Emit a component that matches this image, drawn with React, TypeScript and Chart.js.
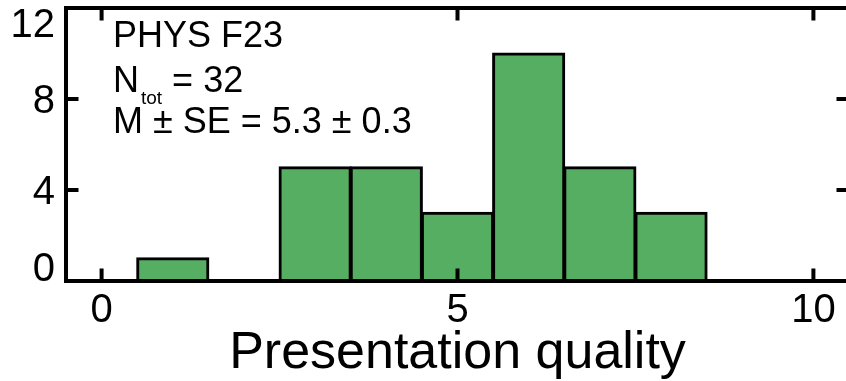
import React, { useEffect, useRef } from "react";
import { Chart, registerables } from "chart.js";

Chart.register(...registerables);

// ---- data ----
const binCenters = [0, 1, 2, 3, 4, 5, 6, 7, 8, 9, 10];
const counts = [0, 1, 0, 5, 5, 3, 10, 5, 3, 0, 0];
const xTicks = [0, 5, 10];
const yTicks = [0, 4, 8, 12];
const xTitle = "Presentation quality";
const groupLabel = "PHYS F23";
const nTotal = 32;
const meanText = "M \u00b1 SE = 5.3 \u00b1 0.3";

const FONT = '"Liberation Sans", Arial, Helvetica, sans-serif';

const axesPlugin = {
  id: "frameAxes",
  afterDatasetsDraw(chart: any) {
    const { ctx, chartArea: a, scales } = chart;
    const xs = scales.x;
    const ys = scales.y;
    ctx.save();
    ctx.strokeStyle = "#000";
    ctx.lineWidth = 4;
    ctx.lineJoin = "miter";
    ctx.lineCap = "butt";
    ctx.strokeRect(a.left, a.top, a.right - a.left, a.bottom - a.top);

    const tl = 12.5;
    ctx.beginPath();
    for (const v of xTicks) {
      const px = xs.getPixelForValue(v);
      ctx.moveTo(px, a.bottom);
      ctx.lineTo(px, a.bottom - tl);
      ctx.moveTo(px, a.top);
      ctx.lineTo(px, a.top + tl);
    }
    for (const v of yTicks) {
      const py = ys.getPixelForValue(v);
      ctx.moveTo(a.left, py);
      ctx.lineTo(a.left + tl, py);
      ctx.moveTo(a.right, py);
      ctx.lineTo(a.right - tl, py);
    }
    ctx.stroke();

    ctx.fillStyle = "#000";
    const tickSize = 40;
    const cap = tickSize * 0.716;
    ctx.font = `${tickSize}px ${FONT}`;
    ctx.textBaseline = "alphabetic";
    ctx.textAlign = "center";
    for (const v of xTicks) {
      ctx.fillText(String(v), xs.getPixelForValue(v), a.bottom + 41);
    }
    ctx.textAlign = "right";
    for (const v of yTicks) {
      let c = ys.getPixelForValue(v);
      c = Math.min(Math.max(c, a.top + cap / 2), a.bottom - cap / 2);
      ctx.fillText(String(v), a.left - 11, c + cap / 2);
    }

    // axis title
    ctx.font = `52px ${FONT}`;
    ctx.textAlign = "center";
    ctx.fillText(xTitle, (a.left + a.right) / 2, a.bottom + 87);

    // annotation
    const tx = a.left + 47;
    ctx.textAlign = "left";
    ctx.font = `36px ${FONT}`;
    ctx.fillText(groupLabel, tx, a.top + 39);
    const b2 = a.top + 84;
    ctx.fillText("N", tx, b2);
    let cx = tx + ctx.measureText("N").width + 2;
    ctx.font = `19px ${FONT}`;
    ctx.fillText("tot", cx, b2 + 12);
    cx += ctx.measureText("tot").width;
    ctx.font = `36px ${FONT}`;
    ctx.fillText(` = ${nTotal}`, cx, b2);
    ctx.fillText(meanText, tx, a.top + 125);
    ctx.restore();
  },
};

export default function App() {
  const ref = useRef<HTMLCanvasElement | null>(null);
  useEffect(() => {
    if (!ref.current) return;
    const data = binCenters.map((x, i) => ({ x, y: counts[i] > 0 ? counts[i] : null }));
    const chart = new Chart(ref.current, {
      type: "bar",
      data: {
        datasets: [
          {
            data: data as any,
            backgroundColor: "#56ae62",
            borderColor: "#000",
            borderWidth: 3,
            borderSkipped: false,
            inflateAmount: 1,
            barPercentage: 1,
            categoryPercentage: 1,
          } as any,
        ],
      },
      options: {
        responsive: false,
        maintainAspectRatio: false,
        devicePixelRatio: 1,
        animation: false,
        layout: { padding: { left: 66, right: 11, top: 8, bottom: 100 } },
        plugins: { legend: { display: false }, tooltip: { enabled: false } },
        scales: {
          x: { type: "linear", min: -0.5, max: 10.5, offset: false, display: false },
          y: { type: "linear", min: 0, max: 12, display: false },
        },
      },
      plugins: [axesPlugin],
    });
    return () => chart.destroy();
  }, []);
  return (
    <div
      style={{
        position: "absolute",
        left: 0,
        top: 0,
        width: 846,
        height: 381,
        overflow: "hidden",
        background: "#fff",
      }}
    >
      <canvas ref={ref} width={860} height={381} style={{ display: "block", width: 860, height: 381 }} />
    </div>
  );
}
